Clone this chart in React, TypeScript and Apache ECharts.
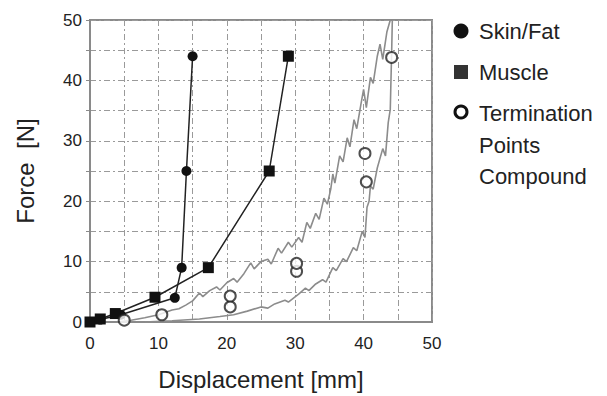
import React, { useEffect, useRef } from "react";
import * as echarts from "echarts";

const xTicks = [0, 10, 20, 30, 40, 50];
const yTicks = [0, 10, 20, 30, 40, 50];

const skinFat: [number, number][] = [
  [0, 0], [1.5, 0.4], [4.5, 1.2], [12.4, 4], [13.4, 9], [14.1, 25], [15, 44],
];
const muscle: [number, number][] = [
  [0, 0], [1.5, 0.5], [3.7, 1.4], [9.5, 4.1], [17.3, 9], [26.2, 25], [29, 44],
];
const termination: [number, number][] = [
  [5, 0.3], [10.5, 1.2], [20.5, 2.5], [20.5, 4.3], [30.2, 8.4], [30.2, 9.7],
  [40.4, 23.2], [40.2, 27.9], [44.1, 43.8],
];
const compoundUpper: [number, number][] = [
  [4, 0], [6, 0.3], [8, 0.7], [10, 1.2], [12, 2], [13, 2.2], [14, 2.8], [15, 3.5],
  [16, 4.8], [16.5, 4.2], [17.5, 5.2], [18.5, 5.8], [19, 5.3], [20, 6.5], [21, 7.2],
  [21.5, 6.6], [22.5, 8], [23.5, 9.8], [24, 8.8], [25, 10], [26, 10.4], [26.5, 9.6],
  [27.5, 12.2], [28, 11.4], [29, 13.2], [29.5, 12.4], [30.5, 14], [31, 13.2],
  [31.7, 16.5], [32.2, 15.5], [33, 18], [33.5, 17], [34.2, 20.5], [34.7, 19.5],
  [35.2, 22], [35.5, 24.5], [35.8, 23], [36.5, 27.5], [37, 26.5], [37.6, 30.5],
  [38, 29], [38.6, 33.5], [39, 32], [39.6, 36], [40, 38.5], [40.4, 35.5], [41, 40.5],
  [41.4, 39.5], [42, 44], [42.4, 46], [42.8, 43.5], [43.4, 48], [43.9, 50],
];
const compoundLower: [number, number][] = [
  [8, 0], [12, 0.2], [16, 0.5], [19, 0.9], [21, 1.2], [23, 1.8], [25, 2.5], [26, 2.3],
  [27, 3], [28.5, 3.6], [29, 3.3], [30.5, 4.6], [31.5, 5.6], [32, 5.2], [33, 6.3],
  [34, 7], [34.5, 6.6], [35.5, 9], [36, 8.5], [37, 10.5], [37.5, 10], [38.5, 12.3],
  [39, 11.8], [39.8, 15], [40.2, 14], [40.5, 19], [40.8, 20], [41, 22.5], [41.4, 22],
  [42, 25.5], [42.8, 28.7], [43.2, 27.5], [43.6, 33], [43.9, 35.2], [44, 40],
  [44.1, 44.6], [44.2, 50],
];

const FONT = "'Liberation Sans', Arial, sans-serif";

export default function App() {
  const ref = useRef<HTMLDivElement>(null);
  useEffect(() => {
    if (!ref.current) return;
    const chart = echarts.init(ref.current, undefined, { renderer: "svg" });
    const gridLine = { show: true, lineStyle: { color: "#9a9a9a", type: [6, 3, 2, 3] as any, width: 1 } };
    const legendText = (text: string, y: number) => ({
      type: "text", x: 479, y,
      style: { text, fontFamily: FONT, fontSize: 22, fill: "#222", verticalAlign: "middle" },
    });
    chart.setOption({
      animation: false,
      backgroundColor: "#fff",
      grid: { left: 90, top: 20, right: 175, bottom: 71, show: true, borderColor: "#8a8a8a", borderWidth: 2, backgroundColor: "transparent" },
      xAxis: {
        type: "value", min: 0, max: 50, interval: 5,
        name: "Displacement [mm]", nameLocation: "middle", nameGap: 45,
        nameTextStyle: { fontFamily: FONT, fontSize: 24, color: "#222" },
        axisLine: { show: true, lineStyle: { color: "#8a8a8a", width: 2 } },
        axisTick: { show: false },
        axisLabel: {
          fontFamily: FONT, fontSize: 17, color: "#222", margin: 13,
          formatter: (v: number) => (xTicks.includes(v) ? String(v) : ""),
        },
        splitLine: gridLine,
      },
      yAxis: {
        type: "value", min: 0, max: 50, interval: 5,
        name: "Force  [N]", nameLocation: "middle", nameGap: 53,
        nameTextStyle: { fontFamily: FONT, fontSize: 24, color: "#222" },
        axisLine: { show: true, lineStyle: { color: "#8a8a8a", width: 2 } },
        axisTick: { show: true, length: 4, lineStyle: { color: "#8a8a8a" } },
        axisLabel: {
          fontFamily: FONT, fontSize: 17, color: "#222", margin: 8,
          formatter: (v: number) => (yTicks.includes(v) ? String(v) : ""),
        },
        splitLine: gridLine,
      },
      series: [
        {
          type: "line", data: compoundUpper, showSymbol: false, symbol: "none",
          lineStyle: { color: "#8c8c8c", width: 1.6 }, z: 2,
        },
        {
          type: "line", data: compoundLower, showSymbol: false, symbol: "none",
          lineStyle: { color: "#8c8c8c", width: 1.6 }, z: 2,
        },
        {
          name: "Skin/Fat", type: "line", data: skinFat, symbol: "circle", symbolSize: 10,
          itemStyle: { color: "#111" }, lineStyle: { color: "#222", width: 1.5 }, z: 3,
        },
        {
          name: "Muscle", type: "line", data: muscle, symbol: "rect", symbolSize: 11,
          itemStyle: { color: "#111" }, lineStyle: { color: "#222", width: 1.5 }, z: 3,
        },
        {
          name: "Termination Points Compound", type: "scatter", data: termination,
          symbol: "circle", symbolSize: 11,
          itemStyle: { color: "#fff", borderColor: "#222", borderWidth: 2 }, z: 4,
        },
      ],
      graphic: [
        { type: "circle", shape: { cx: 461, cy: 31, r: 7.5 }, style: { fill: "#111" } },
        legendText("Skin/Fat", 31),
        { type: "rect", shape: { x: 454, y: 65, width: 14, height: 14 }, style: { fill: "#333" } },
        legendText("Muscle", 72),
        { type: "circle", shape: { cx: 461, cy: 112, r: 6 }, style: { fill: "#fff", stroke: "#111", lineWidth: 3 } },
        legendText("Termination", 113),
        legendText("Points", 145),
        legendText("Compound", 176),
      ],
    });
    return () => chart.dispose();
  }, []);
  return (
    <div
      ref={ref}
      style={{ position: "absolute", left: 0, top: 0, width: 607, height: 396 }}
    />
  );
}
